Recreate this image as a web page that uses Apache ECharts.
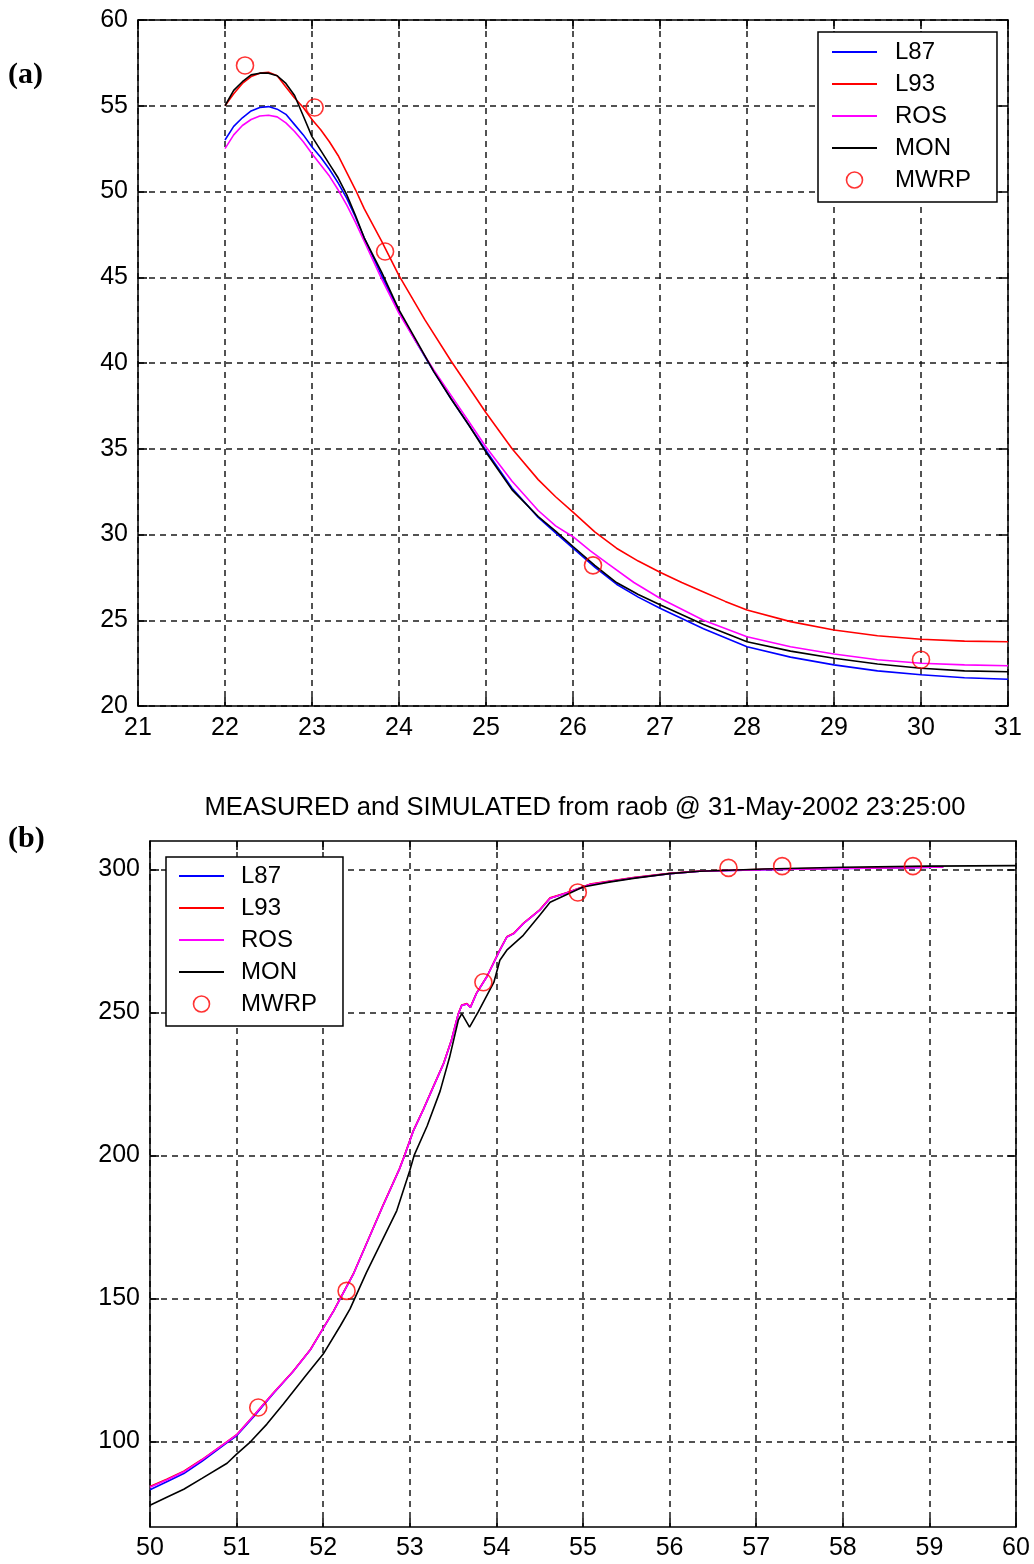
<!DOCTYPE html>
<html><head><meta charset="utf-8">
<script src="https://cdn.jsdelivr.net/npm/echarts@6/dist/echarts.min.js"></script>
<style>html,body{margin:0;padding:0;background:#fff}#c{width:1034px;height:1564px}</style>
</head><body><div id="c"></div>
<script>
// ---------- panel (a) ----------
const topXTicks = [21, 31];           // x range
const topYTicks = [20, 60];           // y range
const topL87 = [[22.0,53.0],[22.1,53.8],[22.2,54.3],[22.3,54.7],[22.4,54.9],[22.5,54.95],[22.6,54.8],[22.7,54.5],[22.8,53.9],[22.9,53.3],[23.0,52.6],[23.1,52.0],[23.2,51.3],[23.3,50.5],[23.4,49.6],[23.5,48.5],[23.6,47.3],[23.8,45.1],[24.0,43.0],[24.2,41.2],[24.4,39.5],[24.6,37.9],[24.8,36.4],[25.0,34.9],[25.3,32.7],[25.6,31.0],[25.8,30.1],[26.0,29.2],[26.25,28.1],[26.5,27.1],[26.75,26.35],[27.0,25.7],[27.5,24.5],[28.0,23.46],[28.5,22.85],[29.0,22.4],[29.5,22.05],[30.0,21.82],[30.5,21.65],[31.0,21.56]];
const topL93 = [[22.0,55.0],[22.1,55.7],[22.2,56.3],[22.3,56.7],[22.4,56.9],[22.5,56.95],[22.6,56.75],[22.7,56.1],[22.8,55.45],[22.9,54.9],[23.0,54.2],[23.1,53.6],[23.2,52.9],[23.3,52.1],[23.4,51.1],[23.5,50.1],[23.6,49.0],[23.8,47.1],[24.0,45.1],[24.3,42.5],[24.6,40.1],[25.0,37.1],[25.3,35.0],[25.6,33.2],[25.8,32.2],[26.0,31.3],[26.25,30.15],[26.5,29.2],[26.75,28.45],[27.0,27.8],[27.25,27.2],[27.5,26.65],[27.75,26.1],[28.0,25.6],[28.5,24.92],[29.0,24.43],[29.5,24.1],[30.0,23.89],[30.5,23.78],[31.0,23.75]];
const topROS = [[22.0,52.5],[22.1,53.3],[22.2,53.85],[22.3,54.2],[22.4,54.4],[22.5,54.45],[22.6,54.35],[22.7,54.0],[22.8,53.5],[22.9,52.9],[23.0,52.2],[23.2,50.9],[23.3,50.1],[23.4,49.2],[23.5,48.2],[23.6,47.1],[23.8,44.9],[24.0,42.9],[24.2,41.2],[24.4,39.6],[24.6,38.1],[24.8,36.6],[25.0,35.1],[25.3,33.1],[25.6,31.4],[25.8,30.5],[26.0,29.87],[26.2,29.05],[26.4,28.3],[26.7,27.2],[27.0,26.28],[27.5,25.0],[28.0,24.04],[28.5,23.45],[29.0,23.03],[29.5,22.7],[30.0,22.49],[30.5,22.4],[31.0,22.35]];
const topMON = [[22.0,55.0],[22.1,55.9],[22.2,56.4],[22.3,56.8],[22.4,56.9],[22.5,56.9],[22.6,56.75],[22.7,56.3],[22.8,55.6],[22.9,54.4],[23.0,53.2],[23.1,52.4],[23.2,51.6],[23.3,50.8],[23.4,49.8],[23.5,48.6],[23.6,47.3],[23.8,45.3],[24.0,43.1],[24.2,41.3],[24.4,39.5],[24.6,37.9],[24.8,36.4],[25.0,34.8],[25.3,32.6],[25.6,31.05],[25.8,30.2],[26.0,29.3],[26.25,28.2],[26.5,27.2],[26.75,26.5],[27.0,25.9],[27.5,24.75],[28.0,23.75],[28.5,23.2],[29.0,22.78],[29.5,22.45],[30.0,22.2],[30.5,22.05],[31.0,22.0]];
const topMWRP = [[22.23,57.35],[23.03,54.9],[23.84,46.5],[26.23,28.2],[30.0,22.7]];

// ---------- panel (b) ----------
const botTitle = 'MEASURED and SIMULATED from raob @ 31-May-2002 23:25:00';
const botYTickValues = [100, 150, 200, 250, 300];
const botL87 = [[50.0,83.0],[50.2,85.9],[50.39,88.7],[50.6,93.0],[50.89,99.5],[51.0,101.9],[51.2,108.7],[51.42,116.5],[51.65,124.3],[51.85,131.9],[52.0,139.5],[52.12,145.5],[52.35,158.6],[52.54,171.9],[52.69,182.4],[52.88,195.2],[52.94,200.0],[53.04,208.5],[53.16,216.3],[53.27,223.9],[53.39,232.1],[53.48,240.2],[53.56,249.5],[53.6,252.5],[53.66,253.0],[53.7,251.8],[53.77,256.7],[53.89,262.5],[54.04,271.8],[54.12,276.4],[54.2,277.6],[54.31,281.1],[54.5,285.8],[54.62,290.0],[54.81,291.8],[55.08,294.8],[55.58,297.1],[56.0,298.6],[56.35,299.4],[57.1,300.0],[58.0,300.4],[58.8,300.7],[59.16,300.9]];
const botL93 = [[50.0,84.2],[50.2,86.8],[50.39,89.5],[50.6,93.6],[50.89,99.9],[51.0,102.3],[51.2,109.1],[51.42,116.8],[51.65,124.4],[51.85,132.0],[52.0,139.6],[52.12,145.6],[52.35,158.7],[52.54,172.0],[52.69,182.5],[52.88,195.3],[52.94,200.1],[53.04,208.6],[53.16,216.4],[53.27,224.0],[53.39,232.2],[53.48,240.3],[53.56,249.6],[53.6,252.6],[53.66,253.1],[53.7,251.9],[53.77,256.8],[53.89,262.6],[54.04,271.9],[54.12,276.5],[54.2,277.7],[54.31,281.2],[54.5,285.9],[54.62,290.1],[54.81,291.9],[55.08,294.9],[55.58,297.2],[56.0,298.7],[56.35,299.5],[57.1,300.1],[58.0,300.5],[58.8,300.8],[59.16,301.0]];
const botROS = [[50.0,83.9],[50.2,86.5],[50.39,89.3],[50.6,93.5],[50.89,99.8],[51.0,102.2],[51.2,109.0],[51.42,116.7],[51.65,124.3],[51.85,131.9],[52.0,139.5],[52.12,145.5],[52.35,158.6],[52.54,171.9],[52.69,182.4],[52.88,195.2],[52.94,200.0],[53.04,208.5],[53.16,216.3],[53.27,223.9],[53.39,232.1],[53.48,240.2],[53.56,249.5],[53.6,252.5],[53.66,253.0],[53.7,251.8],[53.77,256.7],[53.89,262.5],[54.04,271.8],[54.12,276.4],[54.2,277.6],[54.31,281.1],[54.5,285.8],[54.62,290.0],[54.81,291.8],[55.08,294.8],[55.58,297.1],[56.0,298.6],[56.35,299.4],[57.1,300.0],[58.0,300.4],[58.8,300.7],[59.16,300.9]];
const botMON = [[50.0,77.6],[50.2,80.5],[50.39,83.2],[50.6,87.0],[50.89,92.3],[51.0,95.5],[51.16,99.8],[51.35,106.0],[51.54,113.0],[51.8,123.0],[52.0,130.5],[52.2,140.5],[52.31,146.3],[52.5,159.1],[52.69,170.8],[52.85,180.7],[53.0,194.7],[53.05,200.0],[53.2,210.3],[53.35,222.5],[53.46,234.4],[53.56,247.3],[53.6,249.6],[53.69,244.9],[53.79,250.2],[53.88,255.4],[53.97,260.5],[54.04,268.3],[54.12,271.8],[54.31,277.0],[54.5,284.0],[54.62,288.6],[55.0,293.9],[55.3,295.6],[55.6,297.0],[56.0,298.6],[56.35,299.4],[57.1,300.2],[58.0,300.8],[59.0,301.2],[60.0,301.4]];
const botMWRP = [[51.25,111.8],[52.27,152.6],[53.85,260.6],[54.94,292.0],[56.68,300.6],[57.30,301.2],[58.81,301.2]];

const names = ['L87','L93','ROS','MON','MWRP'];
const colors = {L87:'#0000ff', L93:'#ff0000', ROS:'#ff00ff', MON:'#000000', MWRP:'#ff0000'};

const FONT = '"Liberation Sans", Arial, sans-serif';
const axisLineStyle = {color:'#000', width:1.5};
const gridLine = {show:true, lineStyle:{color:'#1a1a1a', width:1.5, type:[6,5]}};
const label = {color:'#000', fontSize:25, fontFamily:FONT};
const lineIcon = 'path://M0,0L45,0L45,1.8L0,1.8Z';

function mainX(grid, min, max, margin){
  return {type:'value', gridIndex:grid, min:min, max:max, interval:1, position:'bottom',
    axisLine:{show:true, onZero:false, lineStyle:axisLineStyle},
    axisTick:{show:true, inside:true, length:9, lineStyle:axisLineStyle},
    axisLabel:Object.assign({margin:margin, showMinLabel:true, showMaxLabel:true}, label),
    splitLine:gridLine};
}
function topX(grid, min, max){
  return {type:'value', gridIndex:grid, min:min, max:max, interval:1, position:'top',
    axisLine:{show:true, onZero:false, lineStyle:axisLineStyle},
    axisTick:{show:true, inside:true, length:9, lineStyle:axisLineStyle},
    axisLabel:{show:false}, splitLine:{show:false}};
}
function legendData(){
  return names.map(n => n === 'MWRP'
    ? {name:n, icon:'circle', itemStyle:{color:'rgba(0,0,0,0)', borderColor:'#ff0000', borderWidth:1.6}}
    : {name:n, icon:lineIcon, itemStyle:{color:colors[n]}});
}

const option = {
  backgroundColor:'#fff',
  animation:false,
  grid:[
    {left:138, top:20, width:870, height:686, containLabel:false},
    {left:150, top:841, width:866, height:686, containLabel:false}
  ],
  xAxis:[
    mainX(0, topXTicks[0], topXTicks[1], 10),
    topX(0, topXTicks[0], topXTicks[1]),
    mainX(1, 50, 60, 9),
    topX(1, 50, 60)
  ],
  yAxis:[
    {type:'value', gridIndex:0, min:topYTicks[0], max:topYTicks[1], interval:5, position:'left',
      axisLine:{show:true, onZero:false, lineStyle:axisLineStyle},
      axisTick:{show:true, inside:true, length:9, lineStyle:axisLineStyle},
      axisLabel:Object.assign({margin:10}, label), splitLine:gridLine},
    {type:'value', gridIndex:0, min:topYTicks[0], max:topYTicks[1], interval:5, position:'right',
      axisLine:{show:true, onZero:false, lineStyle:axisLineStyle},
      axisTick:{show:true, inside:true, length:9, lineStyle:axisLineStyle},
      axisLabel:{show:false}, splitLine:{show:false}},
    {type:'value', gridIndex:1, min:70, max:310, position:'left',
      axisLine:{show:true, onZero:false, lineStyle:axisLineStyle},
      axisTick:{show:true, inside:true, length:9, lineStyle:axisLineStyle, customValues:botYTickValues},
      axisLabel:Object.assign({margin:10, customValues:botYTickValues}, label), splitLine:gridLine},
    {type:'value', gridIndex:1, min:70, max:310, position:'right',
      axisLine:{show:true, onZero:false, lineStyle:axisLineStyle},
      axisTick:{show:true, inside:true, length:9, lineStyle:axisLineStyle, customValues:botYTickValues},
      axisLabel:{show:false}, splitLine:{show:false}}
  ],
  legend:[
    {orient:'vertical', left:818, top:32, data:legendData(), itemWidth:45, itemHeight:16, itemGap:8,
     padding:[8,26,10,14], borderColor:'#000', borderWidth:1.5, backgroundColor:'#fff',
     textStyle:{fontSize:24, fontFamily:FONT, color:'#000', lineHeight:24, padding:[0,0,0,13]},
     selectedMode:false, z:10},
    {orient:'vertical', left:166, top:857, data:legendData(), itemWidth:45, itemHeight:16, itemGap:8,
     padding:[7,26,10,13], borderColor:'#000', borderWidth:1.5, backgroundColor:'#fff',
     textStyle:{fontSize:24, fontFamily:FONT, color:'#000', lineHeight:24, padding:[0,0,0,12]},
     selectedMode:false, z:10}
  ],
  graphic:[
    {type:'text', left:8, top:60, style:{text:'(a)', font:'bold 30px "Liberation Serif", "Times New Roman", serif', fill:'#000'}},
    {type:'text', left:8, top:824, style:{text:'(b)', font:'bold 30px "Liberation Serif", "Times New Roman", serif', fill:'#000'}},
    {type:'text', x:585, y:808, style:{text:botTitle, font:'25.6px "Liberation Sans", Arial, sans-serif', fill:'#000', textAlign:'center', textVerticalAlign:'middle'}}
  ],
  series:[]
};

function lineSeries(name, data, xi, yi){
  return {type:'line', name:name, data:data, xAxisIndex:xi, yAxisIndex:yi, symbol:'none',
    smooth:false, lineStyle:{color:colors[name], width:1.6}, itemStyle:{color:colors[name]}, z:2};
}
function ptSeries(data, xi, yi){
  return {type:'scatter', name:'MWRP', data:data, xAxisIndex:xi, yAxisIndex:yi, symbol:'circle', symbolSize:17,
    itemStyle:{color:'rgba(0,0,0,0)', borderColor:'#ff0000', borderWidth:1.6}, z:3};
}
option.series.push(
  lineSeries('L87', topL87, 0, 0),
  lineSeries('L93', topL93, 0, 0),
  lineSeries('ROS', topROS, 0, 0),
  lineSeries('MON', topMON, 0, 0),
  ptSeries(topMWRP, 0, 0),
  lineSeries('L87', botL87, 2, 2),
  lineSeries('L93', botL93, 2, 2),
  lineSeries('ROS', botROS, 2, 2),
  lineSeries('MON', botMON, 2, 2),
  ptSeries(botMWRP, 2, 2)
);

const chart = echarts.init(document.getElementById('c'));
chart.setOption(option);
</script>
</body></html>
